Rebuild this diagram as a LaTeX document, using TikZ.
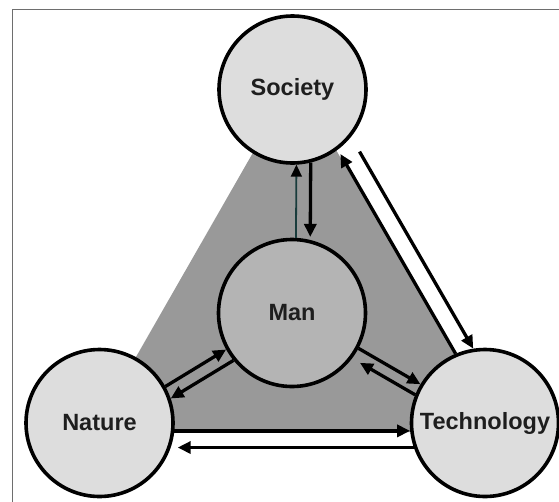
\documentclass[tikz,border=0pt]{standalone}
\usepackage{fontspec}
\setmainfont{Liberation Sans}
\usetikzlibrary{arrows.meta}
\definecolor{circlight}{RGB}{221,221,221}
\definecolor{circman}{RGB}{180,180,180}
\definecolor{trigray}{RGB}{153,153,153}
\definecolor{framegray}{RGB}{110,110,110}
\definecolor{tealdark}{RGB}{25,60,60}
\definecolor{txt}{RGB}{30,30,30}
\tikzset{
  bubble/.style={circle, draw=black, line width=3.6pt, minimum size=147pt, inner sep=0pt,
    fill=circlight, text=txt, font=\bfseries\fontsize{23.5}{27}\selectfont},
  arr/.style={line width=3.3pt, draw=black, -{Triangle[length=13pt,width=12pt]}},
  thinarr/.style={line width=1.8pt, draw=tealdark, -{Triangle[length=12pt,width=11pt,color=black]}}
}
\begin{document}
\begin{tikzpicture}[x=1pt,y=-1pt]
\useasboundingbox (0,0) rectangle (559,501);
\clip (0,0) rectangle (559,501);
\draw[framegray, line width=1.6pt] (12.5,9.5) rectangle (620,560);
% background triangle
\fill[trigray] (294.6,80) -- (93,432) -- (503,432) -- cycle;
% circles
\node[bubble] (soc) at (292.5,89.5) {Society};
\node[bubble, fill=circman] (man) at (292,313) {Man};
\node[bubble] (nat) at (99.5,423) {Nature};
\node[bubble] (tech) at (485,423) {Technology};
% Man <-> Society
\draw[thinarr] (man.87.7) -- (soc.-87.7);
\draw[arr, shorten >=3pt] (soc.-76.1) -- (man.76.1);
% Society <-> Technology
\draw[arr, shorten >=5pt] (tech.113.5) -- (soc.-53.5);
\draw[arr, shorten <=17pt] (soc.-39.7) -- (tech.99.7);
% Man <-> Technology
\draw[arr] (man.-28.6) -- (tech.149.2);
\draw[arr, shorten >=9pt] (tech.158.3) -- (man.-37.7);
% Man <-> Nature
\draw[arr] (nat.29.7) -- (man.209.7);
\draw[arr] (man.219.7) -- (nat.19.7);
% Nature <-> Technology
\draw[arr] (nat.-6.9) -- (tech.186.9);
\draw[arr, shorten >=7pt] (tech.199.5) -- (nat.-19.5);
\end{tikzpicture}
\end{document}
